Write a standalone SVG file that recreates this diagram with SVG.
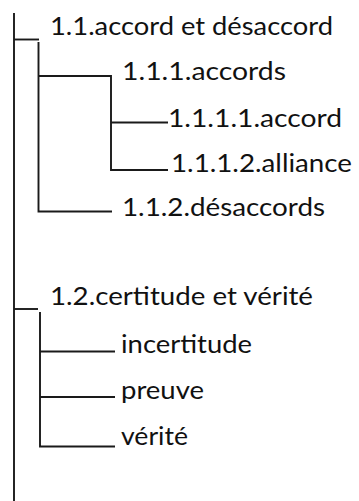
<svg xmlns="http://www.w3.org/2000/svg" width="359" height="501" viewBox="0 0 359 501">
<style>
.t{font-family:Lato,"Noto Sans","DejaVu Sans",sans-serif;font-size:25.5px;fill:#111;lengthAdjust:spacingAndGlyphs}
.c{fill:none;stroke:#1a1a1a;stroke-width:1.9}
</style>
<rect width="359" height="501" fill="#fff"/>
<g id="connectors">
<path class="c" d="M14,13V501"/>
<path class="c" d="M14,39.5H39"/>
<path class="c" d="M38.5,42V211.5H112"/>
<path class="c" d="M38.5,76H111V170H168"/>
<path class="c" d="M111,122.5H168"/>
<path class="c" d="M14,309H38"/>
<path class="c" d="M40,312V446.5H115"/>
<path class="c" d="M40,351.5H115"/>
<path class="c" d="M40,397H115"/>
</g>
<g id="n1"><text class="t" x="50" y="35" textLength="283" lengthAdjust="spacingAndGlyphs">1.1.accord et désaccord</text></g>
<g id="n2"><text class="t" x="122" y="80" textLength="164" lengthAdjust="spacingAndGlyphs">1.1.1.accords</text></g>
<g id="n3"><text class="t" x="168" y="127" textLength="174" lengthAdjust="spacingAndGlyphs">1.1.1.1.accord</text></g>
<g id="n4"><text class="t" x="171" y="172" textLength="181" lengthAdjust="spacingAndGlyphs">1.1.1.2.alliance</text></g>
<g id="n5"><text class="t" x="122" y="216" textLength="203" lengthAdjust="spacingAndGlyphs">1.1.2.désaccords</text></g>
<g id="n6"><text class="t" x="50" y="305" textLength="263" lengthAdjust="spacingAndGlyphs">1.2.certitude et vérité</text></g>
<g id="n7"><text class="t" x="121" y="353" textLength="131" lengthAdjust="spacingAndGlyphs">incertitude</text></g>
<g id="n8"><text class="t" x="121" y="399" textLength="83" lengthAdjust="spacingAndGlyphs">preuve</text></g>
<g id="n9"><text class="t" x="121" y="445" textLength="67" lengthAdjust="spacingAndGlyphs">vérité</text></g>
</svg>
